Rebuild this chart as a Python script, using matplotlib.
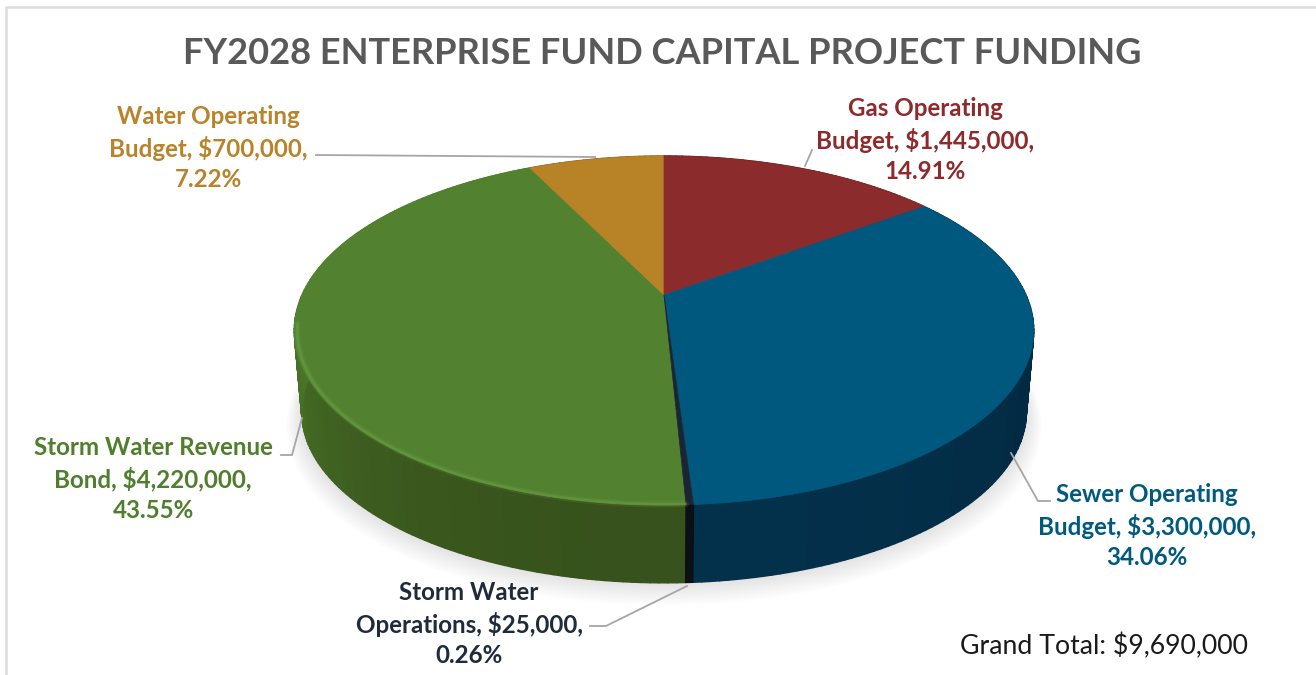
import numpy as np
import matplotlib
matplotlib.use("Agg")
import matplotlib.pyplot as plt
from matplotlib.collections import PolyCollection
from matplotlib.colors import to_rgb

# ---- data ----
categories = ["Gas Operating", "Sewer Operating", "Storm Water Operations",
              "Storm Water Revenue Bond", "Water Operating"]
values = [1445000, 3300000, 25000, 4220000, 700000]
title = "FY2028 ENTERPRISE FUND CAPITAL PROJECT FUNDING"
label_texts = ["Gas Operating\nBudget, $1,445,000,\n14.91%",
               "Sewer Operating\nBudget, $3,300,000,\n34.06%",
               "Storm Water\nOperations, $25,000,\n0.26%",
               "Storm Water Revenue\nBond, $4,220,000,\n43.55%",
               "Water Operating\nBudget, $700,000,\n7.22%"]
grand_total = "Grand Total: $9,690,000"

# ---- styles ----
top_colors = ["#8c2b2b", "#00587f", "#1a2433", "#52822f", "#b88226"]
side_colors = ["#5a1a1a", "#02263c", "#10161f", "#4c7a29", "#7a561a"]
side_dark = ["#4a1515", "#03304b", "#0b1017", "#37521c", "#6a4a15"]
text_colors = ["#8e2a2c", "#005a80", "#1f2a3c", "#4f7f2d", "#b8832a"]
label_pos = [(925, 140), (1147, 526), (469, 624), (153, 479), (208, 148)]
leaders = [[(805, 166), (812, 150)],
           [(1011, 453), (1038, 501), (1050, 501)],
           [(687, 586), (606, 626), (590, 626)],
           [(302, 418), (292, 455), (281, 455)],
           [(595, 157), (316, 155)]]

plt.rcParams["font.family"] = ["Lato", "DejaVu Sans"]
fig = plt.figure(figsize=(13.16, 6.75), dpi=100)
ax = fig.add_axes([0, 0, 1, 1])
ax.set_xlim(0, 1316)
ax.set_ylim(675, 0)
ax.axis("off")

# chart frame
ax.plot([6, 6, 1316], [675, 6.5, 6.5], color="#dcdcdc", lw=1.8, zorder=1)

# perspective projection of the disc
K = 0.2035
def project(theta, scale=1.0, cy=295.0, cx=664.0):
    u, v = np.sin(theta), np.cos(theta)
    w = 1 + K * v
    return cx + scale * 362 * u / w, cy - scale * 167.3 * v / w

BOT_S, BOT_CY = 0.98, 377.0

# soft shadow round the disc
circle = np.linspace(0, 2 * np.pi, 361)
for i in range(14, 0, -1):
    x, y = project(circle, scale=BOT_S + i * 0.0030, cy=BOT_CY + i * 1.0)
    ax.fill(x, y, color="#8a8a8a", alpha=0.012, lw=0, zorder=2)

# slice boundaries from the values
fracs = np.array(values, dtype=float) / np.sum(values)
edges = np.concatenate([[0], np.cumsum(fracs)]) * 2 * np.pi

# side wall
polys, cols = [], []
bands = 8
order = [4, 0, 1, 3, 2]
for idx in order:
    n = max(int((edges[idx + 1] - edges[idx]) / 0.02), 2)
    th = np.linspace(edges[idx], edges[idx + 1], n + 1)
    xt, yt = project(th)
    xb, yb = project(th, BOT_S, BOT_CY)
    c0, c1 = np.array(to_rgb(side_colors[idx])), np.array(to_rgb(side_dark[idx]))
    for j in range(n):
        f_front = np.clip((-np.cos((th[j] + th[j + 1]) / 2) + 0.1) / 1.1, 0, 1)
        for b in range(bands):
            a0, a1 = b / bands, (b + 1) / bands
            polys.append([(xt[j] + (xb[j] - xt[j]) * a0, yt[j] + (yb[j] - yt[j]) * a0),
                          (xt[j + 1] + (xb[j + 1] - xt[j + 1]) * a0, yt[j + 1] + (yb[j + 1] - yt[j + 1]) * a0),
                          (xt[j + 1] + (xb[j + 1] - xt[j + 1]) * a1, yt[j + 1] + (yb[j + 1] - yt[j + 1]) * a1),
                          (xt[j] + (xb[j] - xt[j]) * a1, yt[j] + (yb[j] - yt[j]) * a1)])
            cols.append(c0 + (c1 - c0) * f_front)
ax.add_collection(PolyCollection(polys, facecolors=cols, edgecolors=cols, linewidths=1.0, zorder=3))

# top face
for idx in [3, 4, 0, 1, 2]:
    th = np.linspace(edges[idx], edges[idx + 1], 200)
    x, y = project(th)
    ax.fill(np.r_[664, x], np.r_[295, y], color=top_colors[idx], lw=0.5, zorder=4, ec=top_colors[idx])
    # bevel along the front rim of the green slice
    if idx == 3:
        mask = np.cos(th) < -0.15
        for off, lw, al in [(0.992, 4.5, 0.15), (0.992, 2.0, 0.35)]:
            xr, yr = project(th[mask], off)
            ax.plot(xr, yr + 1, color="#74a84e", lw=lw, alpha=al, zorder=5, solid_capstyle="round")

# leader lines
for pts in leaders:
    ax.plot(*zip(*pts), color="#a6a6a6", lw=1.3, zorder=6, solid_joinstyle="miter")

# labels
for txt, (x, y), col in zip(label_texts, label_pos, text_colors):
    ax.text(x, y, txt, color=col, fontsize=17.4, fontweight="bold", ha="center", va="center",
            linespacing=1.37, zorder=7)
ax.text(662, 54, title, color="#595959", fontsize=26.1, fontweight="bold", ha="center", va="center", zorder=7)
ax.text(1104, 646, grand_total, color="#1a1a1a", fontsize=19.2, ha="center", va="center", zorder=7)

fig.savefig("out.png", dpi=100)
